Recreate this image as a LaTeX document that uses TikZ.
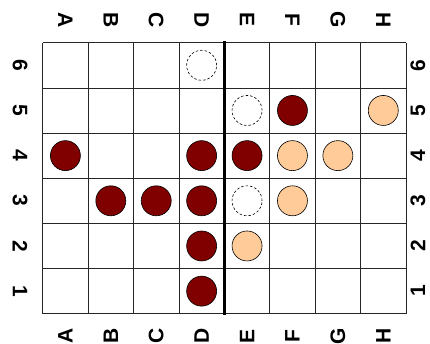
\documentclass[tikz,border=0pt]{standalone}
\usepackage{fontspec}
\setmainfont{Liberation Sans}
\definecolor{stonedark}{HTML}{800000}
\definecolor{stonelight}{HTML}{FFCC99}
\begin{document}
\begin{tikzpicture}[x=1pt,y=-1pt,
  lbl/.style={font=\fontsize{21}{21}\selectfont\bfseries, inner sep=0pt},
  toplbl/.style={lbl, rotate=-90},
  botlbl/.style={lbl, rotate=90},
  darkstone/.style={circle, draw=black, line width=0.6pt, fill=stonedark, minimum size=30pt, inner sep=0pt},
  lightstone/.style={circle, draw=black, line width=0.6pt, fill=stonelight, minimum size=30pt, inner sep=0pt},
  emptystone/.style={circle, draw=black, dash pattern=on 2.5pt off 2pt, line width=0.6pt, fill=white, minimum size=30pt, inner sep=0pt},
  gridline/.style={draw=black!85, line width=0.7pt}]
\useasboundingbox (0,0) rectangle (430,344);
\def\gx{42.7}\def\gy{42.7}\def\cw{45.41}\def\ch{45.17}
% grid
\foreach \i in {0,...,8} {
  \draw[gridline] ({\gx+\i*\cw},\gy) -- ({\gx+\i*\cw},{\gy+6*\ch});
}
\foreach \j in {0,...,6} {
  \draw[gridline] (\gx,{\gy+\j*\ch}) -- ({\gx+8*\cw},{\gy+\j*\ch});
}
% thick divider between D and E
\coordinate (divtop) at ({\gx+4*\cw},{\gy-1.5});
\coordinate (divbot) at ({\gx+4*\cw},{\gy+6*\ch+1.5});
\draw[line width=2.4pt] (divtop) -- (divbot);
% column labels
\foreach \c [count=\i from 0] in {A,B,C,D,E,F,G,H} {
  \node[toplbl] (top\c) at ({\gx+(\i+0.5)*\cw},20) {\c};
  \node[botlbl] (bot\c) at ({\gx+(\i+0.5)*\cw},336) {\c};
}
% row labels
\foreach \r [count=\j from 0] in {6,5,4,3,2,1} {
  \node[toplbl] (left\r) at (20,{\gy+(\j+0.5)*\ch}) {\r};
  \node[botlbl] (right\r) at (418,{\gy+(\j+0.5)*\ch}) {\r};
}
% stones: column index, row index from top
\newcommand{\stone}[4]{\node[#1] (#4) at ({\gx+(#2+0.5)*\cw},{\gy+(#3+0.5)*\ch}) {};}
\stone{emptystone}{3}{0}{D6}
\stone{emptystone}{4}{1}{E5}
\stone{darkstone}{5}{1}{F5}
\stone{lightstone}{7}{1}{H5}
\stone{darkstone}{0}{2}{A4}
\stone{darkstone}{3}{2}{D4}
\stone{darkstone}{4}{2}{E4}
\stone{lightstone}{5}{2}{F4}
\stone{lightstone}{6}{2}{G4}
\stone{darkstone}{1}{3}{B3}
\stone{darkstone}{2}{3}{C3}
\stone{darkstone}{3}{3}{D3}
\stone{emptystone}{4}{3}{E3}
\stone{lightstone}{5}{3}{F3}
\stone{darkstone}{3}{4}{D2}
\stone{lightstone}{4}{4}{E2}
\stone{darkstone}{3}{5}{D1}
\end{tikzpicture}
\end{document}
